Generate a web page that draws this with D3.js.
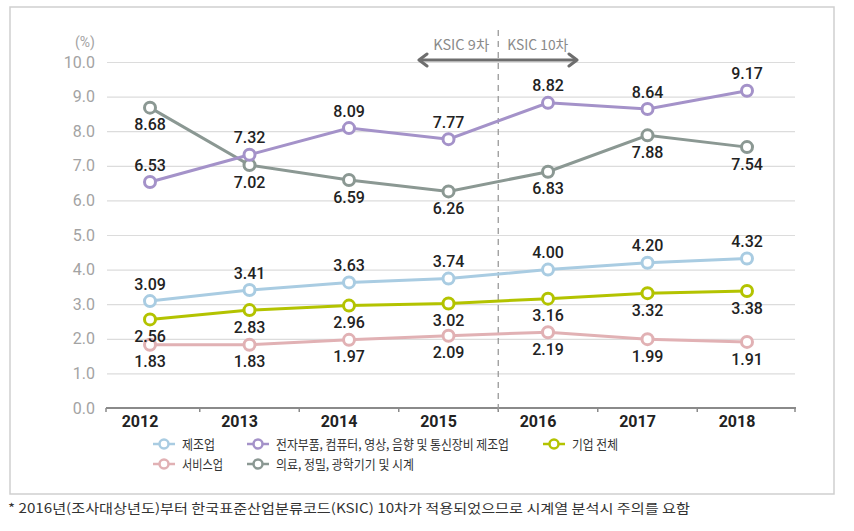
<!DOCTYPE html>
<html><head><meta charset="utf-8">
<script src="https://cdn.jsdelivr.net/npm/d3@7"></script>
<style>body{margin:0;background:#fff}svg{display:block}</style>
</head><body><svg id="c" width="854" height="531"></svg>
<script>
const years = ["2012","2013","2014","2015","2016","2017","2018"];
const manufacturing = [3.09,3.41,3.63,3.74,4.00,4.20,4.32];
const electronics = [6.53,7.32,8.09,7.77,8.82,8.64,9.17];
const allFirms = [2.56,2.83,2.96,3.02,3.16,3.32,3.38];
const services = [1.83,1.83,1.97,2.09,2.19,1.99,1.91];
const medical = [8.68,7.02,6.59,6.26,6.83,7.88,7.54];
const yTicks = [0,1,2,3,4,5,6,7,8,9,10];
const names = ["제조업","전자부품, 컴퓨터, 영상, 음향 및 통신장비 제조업","기업 전체","서비스업","의료, 정밀, 광학기기 및 시계"];
const footnote = "* 2016년(조사대상년도)부터 한국표준산업분류코드(KSIC) 10차가 적용되었으므로 시계열 분석시 주의를 요함";

const series = [
  {name:names[4], values:medical, color:"#8b9893", side:1},
  {name:names[1], values:electronics, color:"#a492c9", side:-1},
  {name:names[0], values:manufacturing, color:"#a9cce2", side:-1},
  {name:names[3], values:services, color:"#e1b1b4", side:1},
  {name:names[2], values:allFirms, color:"#b3c300", side:1}
];

const svg = d3.select("#c");
const x = d3.scalePoint().domain(years).range([150,747]);
const y = d3.scaleLinear().domain([0,10]).range([408,62]);
const numFont = "Roboto, 'Noto Sans', sans-serif";
const krFont = "'Noto Sans CJK KR', 'Noto Sans', sans-serif";

// border
svg.append("rect").attr("x",10).attr("y",7).attr("width",824).attr("height",487)
  .attr("fill","none").attr("stroke","#cfcfcf").attr("stroke-width",1.5);

// gridlines
const grid = d3.axisLeft(y).tickValues(yTicks.filter(d=>d>0)).tickSize(-688).tickFormat("");
svg.append("g").attr("transform","translate(107,0)").call(grid)
  .call(g=>g.select(".domain").remove())
  .call(g=>g.selectAll("line").attr("stroke","#dcdcdc").attr("stroke-width",1.2));

// y labels
svg.append("g").selectAll("text").data(yTicks).join("text")
  .attr("x",95).attr("y",d=>y(d)).attr("dy","0.35em").attr("text-anchor","end")
  .attr("font-family",numFont).attr("font-size",16).attr("fill","#a3a3a3")
  .text(d=>d3.format(".1f")(d));
svg.append("text").attr("x",95).attr("y",42).attr("dy","0.35em").attr("text-anchor","end")
  .attr("font-family",numFont).attr("font-size",14).attr("fill","#a3a3a3").text("(%)");

// x axis
const step = x.step();
const bounds = [106].concat(years.slice(1).map(d=>x(d)-step/2)).concat([795]);
svg.append("line").attr("x1",106).attr("x2",796).attr("y1",y(0)).attr("y2",y(0))
  .attr("stroke","#8a8a8a").attr("stroke-width",2);
svg.append("g").selectAll("line").data(bounds).join("line")
  .attr("x1",d=>d).attr("x2",d=>d).attr("y1",y(0)).attr("y2",y(0)+4)
  .attr("stroke","#8a8a8a").attr("stroke-width",1.5);
svg.append("g").selectAll("text").data(years).join("text")
  .attr("x",d=>x(d)-10).attr("y",421).attr("dy","0.35em").attr("text-anchor","middle")
  .attr("font-family",numFont).attr("font-weight","bold").attr("font-size",16).attr("fill","#222")
  .text(d=>d);

// KSIC divider
const divX = x("2015")+step/2;
svg.append("line").attr("x1",divX).attr("x2",divX).attr("y1",30).attr("y2",411)
  .attr("stroke","#9a9a9a").attr("stroke-width",1.3).attr("stroke-dasharray","6,5");
svg.append("text").attr("x",divX-9).attr("y",45).attr("dy","0.35em").attr("text-anchor","end")
  .attr("font-family",krFont).attr("font-size",14).attr("fill","#8a8a8a")
  .attr("textLength",56).attr("lengthAdjust","spacingAndGlyphs").text("KSIC 9차");
svg.append("text").attr("x",divX+9).attr("y",45).attr("dy","0.35em").attr("text-anchor","start")
  .attr("font-family",krFont).attr("font-size",14).attr("fill","#8a8a8a")
  .attr("textLength",61).attr("lengthAdjust","spacingAndGlyphs").text("KSIC 10차");
const ay = 60, ax1 = 419, ax2 = 577;
svg.append("line").attr("x1",ax1).attr("x2",ax2).attr("y1",ay).attr("y2",ay)
  .attr("stroke","#6e6e6e").attr("stroke-width",3);
svg.append("path").attr("d",`M${ax1+8},${ay-6}L${ax1},${ay}L${ax1+8},${ay+6}M${ax2-8},${ay-6}L${ax2},${ay}L${ax2-8},${ay+6}`)
  .attr("fill","none").attr("stroke","#6e6e6e").attr("stroke-width",3).attr("stroke-linecap","round").attr("stroke-linejoin","round");

// lines
const line = d3.line().x((d,i)=>x(years[i])).y(d=>y(d));
series.forEach(s=>{
  svg.append("path").datum(s.values).attr("d",line).attr("fill","none")
    .attr("stroke",s.color).attr("stroke-width",3);
});
series.forEach(s=>{
  svg.append("g").selectAll("circle").data(s.values).join("circle")
    .attr("cx",(d,i)=>x(years[i])).attr("cy",d=>y(d)).attr("r",5.5)
    .attr("fill","#fff").attr("stroke",s.color).attr("stroke-width",3);
});
series.forEach(s=>{
  svg.append("g").selectAll("text").data(s.values).join("text")
    .attr("x",(d,i)=>x(years[i])).attr("y",d=>y(d)+s.side*17).attr("dy","0.35em")
    .attr("text-anchor","middle").attr("font-family",numFont).attr("font-weight",500)
    .attr("font-size",16).attr("fill","#222")
    .text(d=>d3.format(".2f")(d));
});

// legend
const legend = [
  {s:series[2], x:164, y:444, w:33},
  {s:series[1], x:258, y:444, w:233},
  {s:series[4], x:554, y:444, w:46},
  {s:series[3], x:164, y:464, w:41},
  {s:series[0], x:258, y:464, w:138}
];
legend.forEach(l=>{
  const g = svg.append("g");
  g.append("line").attr("x1",l.x-11).attr("x2",l.x+11).attr("y1",l.y).attr("y2",l.y)
    .attr("stroke",l.s.color).attr("stroke-width",2.5);
  g.append("circle").attr("cx",l.x).attr("cy",l.y).attr("r",4.5).attr("fill","#fff")
    .attr("stroke",l.s.color).attr("stroke-width",2.5);
  g.append("text").attr("x",l.x+18).attr("y",l.y).attr("dy","0.35em")
    .attr("font-family",krFont).attr("font-size",13).attr("fill","#333")
    .attr("textLength",l.w).attr("lengthAdjust","spacingAndGlyphs").text(l.s.name);
});

// footnote
svg.append("text").attr("x",8).attr("y",508).attr("dy","0.35em")
  .attr("font-family",krFont).attr("font-size",13).attr("fill","#333")
  .attr("textLength",682).attr("lengthAdjust","spacingAndGlyphs").text(footnote);
</script></body></html>
